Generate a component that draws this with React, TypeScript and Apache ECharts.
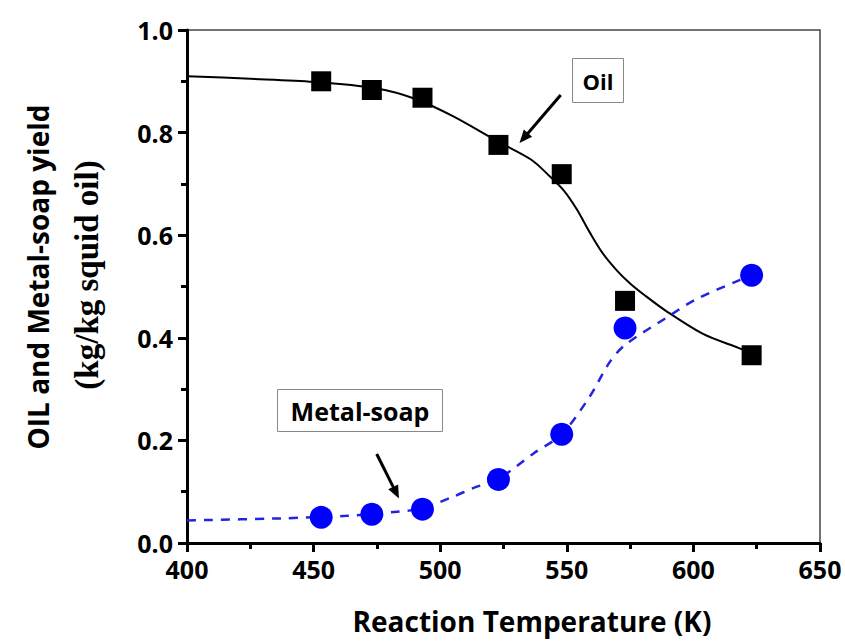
import React, { useEffect, useRef } from "react";
import * as echarts from "echarts";

// Measured data points
const temps = [453, 473, 493, 523, 548, 573, 623];
const oilYield = [0.900, 0.883, 0.868, 0.776, 0.719, 0.472, 0.366];
const soapYield = [0.050, 0.056, 0.066, 0.124, 0.212, 0.419, 0.522];

// Fitted curves
const oilFitT = [400, 425, 450, 475, 490, 505, 523, 536, 543, 549, 554, 559, 564, 570, 575, 581, 589, 604, 618, 623];
const oilFitY = [0.910, 0.905, 0.899, 0.886, 0.866, 0.832, 0.782, 0.747, 0.716, 0.686, 0.650, 0.606, 0.566, 0.530, 0.506, 0.482, 0.453, 0.407, 0.380, 0.370];
const soapFitT = [400, 437, 463, 483, 493, 505, 513, 523, 537, 548, 559, 567, 573, 589, 601, 618, 623];
const soapFitY = [0.044, 0.048, 0.053, 0.061, 0.068, 0.090, 0.107, 0.125, 0.175, 0.212, 0.285, 0.353, 0.386, 0.438, 0.475, 0.512, 0.522];

const xTicks = { min: 400, max: 650, interval: 50 };
const yTicks = { min: 0, max: 1, interval: 0.2 };

const xTitle = "Reaction Temperature (K)";
const yTitle1 = "OIL and Metal-soap yield";
const yTitle2 = "(kg/kg squid oil)";

function arrow(x1: number, y1: number, x2: number, y2: number) {
  const dx = x2 - x1, dy = y2 - y1;
  const len = Math.hypot(dx, dy);
  const ux = dx / len, uy = dy / len;
  const hl = 13, hw = 5.5;
  const bx = x2 - ux * hl, by = y2 - uy * hl;
  const px = -uy, py = ux;
  return [
    { type: "line", shape: { x1, y1, x2: bx + ux * 2, y2: by + uy * 2 }, style: { stroke: "#000", lineWidth: 3 } },
    {
      type: "polygon",
      shape: { points: [[x2, y2], [bx + px * hw, by + py * hw], [bx - px * hw, by - py * hw]] },
      style: { fill: "#000" },
    },
  ];
}

function txt(text: string, x: number, y: number, size: number, family: string, rot = 0) {
  return {
    type: "text",
    x,
    y,
    rotation: rot,
    style: {
      text,
      fontSize: size,
      fontFamily: family,
      fontWeight: "bold",
      fill: "#000",
      align: "center",
      verticalAlign: "middle",
    },
  };
}

export default function App() {
  const ref = useRef<HTMLDivElement>(null);
  useEffect(() => {
    if (!ref.current) return;
    const chart = echarts.init(ref.current, null, { renderer: "svg" });
    const labelFont = { fontFamily: "Open Sans", fontWeight: "bold" as const, fontSize: 25, color: "#000" };
    chart.setOption({
      animation: false,
      backgroundColor: "#fff",
      grid: { left: 187, top: 30, right: 25, bottom: 98, show: true, borderColor: "#444", borderWidth: 1.5 },
      xAxis: {
        type: "value",
        min: xTicks.min,
        max: xTicks.max,
        interval: xTicks.interval,
        splitLine: { show: false },
        axisLine: { lineStyle: { color: "#000", width: 3 } },
        axisTick: { inside: false, length: 9, lineStyle: { width: 3, color: "#000" } },
        minorTick: { show: true, splitNumber: 2, length: 6, lineStyle: { width: 3, color: "#000" } },
        axisLabel: { ...labelFont, margin: 13 },
      },
      yAxis: {
        type: "value",
        min: yTicks.min,
        max: yTicks.max,
        interval: yTicks.interval,
        splitLine: { show: false },
        axisLine: { lineStyle: { color: "#000", width: 3 } },
        axisTick: { inside: false, length: 9, lineStyle: { width: 3, color: "#000" } },
        minorTick: { show: true, splitNumber: 2, length: 6, lineStyle: { width: 3, color: "#000" } },
        axisLabel: { ...labelFont, margin: 14, formatter: (v: number) => v.toFixed(1) },
      },
      series: [
        {
          type: "line",
          data: oilFitT.map((t, i) => [t, oilFitY[i]]),
          smooth: 0.3,
          showSymbol: false,
          lineStyle: { color: "#000", width: 2 },
          z: 2,
        },
        {
          type: "line",
          data: soapFitT.map((t, i) => [t, soapFitY[i]]),
          smooth: 0.3,
          showSymbol: false,
          lineStyle: { color: "#2424e0", width: 2.5, type: [9, 8] },
          z: 2,
        },
        {
          type: "scatter",
          data: temps.map((t, i) => [t, oilYield[i]]),
          symbol: "rect",
          symbolSize: 20,
          itemStyle: { color: "#000", opacity: 1 },
          z: 3,
        },
        {
          type: "scatter",
          data: temps.map((t, i) => [t, soapYield[i]]),
          symbol: "circle",
          symbolSize: 23,
          itemStyle: { color: "#0000ff", opacity: 1 },
          z: 3,
        },
      ],
      graphic: [
        txt(xTitle, 532, 621, 28, "Open Sans"),
        txt(yTitle1, 38, 277, 28, "Open Sans", Math.PI / 2),
        txt(yTitle2, 87, 275, 33, "Liberation Serif", Math.PI / 2),
        {
          type: "rect",
          shape: { x: 572.5, y: 58.5, width: 51, height: 44 },
          style: { fill: "#fff", stroke: "#888", lineWidth: 1 },
        },
        txt("Oil", 598, 81, 22, "Open Sans"),
        {
          type: "rect",
          shape: { x: 277.5, y: 389.5, width: 165, height: 42 },
          style: { fill: "#fff", stroke: "#888", lineWidth: 1 },
        },
        txt("Metal-soap", 360, 411, 25, "Open Sans"),
        ...arrow(560.7, 95, 519.5, 143),
        ...arrow(376.7, 454, 399, 498.5),
      ],
    });
    return () => chart.dispose();
  }, []);
  return <div ref={ref} style={{ width: 845, height: 641, position: "absolute", left: 0, top: 0 }} />;
}
